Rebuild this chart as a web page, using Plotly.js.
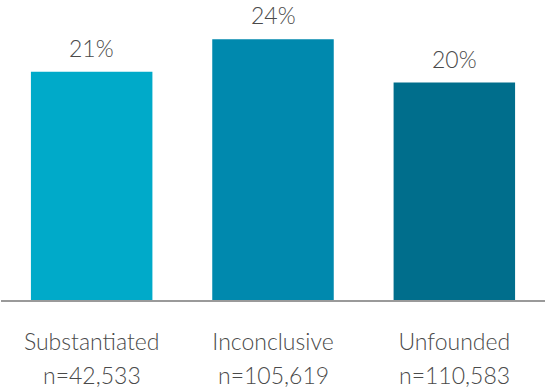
<!DOCTYPE html>
<html>
<head>
<meta charset="utf-8">
<script src="https://cdn.plot.ly/plotly-3.0.1.min.js"></script>
<style>
html,body{margin:0;padding:0;background:#fff;}
#chart{width:545px;height:391px;}
</style>
</head>
<body>
<div id="chart"></div>
<script>
const categories = ["Substantiated", "Inconclusive", "Unfounded"];
const sampleSizes = ["n=42,533", "n=105,619", "n=110,583"];
const percentValues = [21, 24, 20];
const barColors = ["#00AAC9", "#0089AE", "#006E8C"];

const FONT = "Lato, 'Noto Sans', sans-serif";
const TXT = "#4a4a4a";

const trace = {
  type: "bar",
  x: categories,
  y: percentValues,
  marker: { color: barColors, line: { width: 0 } },
  hoverinfo: "skip"
};

const annotations = [];
categories.forEach((c, i) => {
  annotations.push({
    x: c, y: percentValues[i], xref: "x", yref: "y",
    text: percentValues[i] + "%",
    showarrow: false, yanchor: "bottom", yshift: 8,
    font: { family: FONT, size: 23, color: TXT, weight: 300 }
  });
  annotations.push({
    x: c, y: 0, xref: "x", yref: "paper",
    text: sampleSizes[i],
    showarrow: false, yanchor: "top", yshift: -59,
    font: { family: FONT, size: 23, color: TXT, weight: 300 }
  });
});

const layout = {
  width: 545, height: 391,
  margin: { l: 1, r: 0, t: 0, b: 91, pad: 0 },
  paper_bgcolor: "#ffffff",
  plot_bgcolor: "#ffffff",
  bargap: 0.33,
  showlegend: false,
  xaxis: {
    type: "category",
    tickvals: categories,
    ticktext: categories,
    ticks: "",
    showline: true,
    linecolor: "#9a9a9a",
    linewidth: 1.5,
    showgrid: false,
    zeroline: false,
    ticklabelstandoff: 21,
    tickfont: { family: FONT, size: 23, color: TXT, weight: 300 },
    fixedrange: true
  },
  yaxis: {
    range: [0, 27.6],
    visible: false,
    showgrid: false,
    zeroline: false,
    fixedrange: true
  },
  annotations: annotations
};

Plotly.newPlot("chart", [trace], layout, { displayModeBar: false, staticPlot: true });
</script>
</body>
</html>
